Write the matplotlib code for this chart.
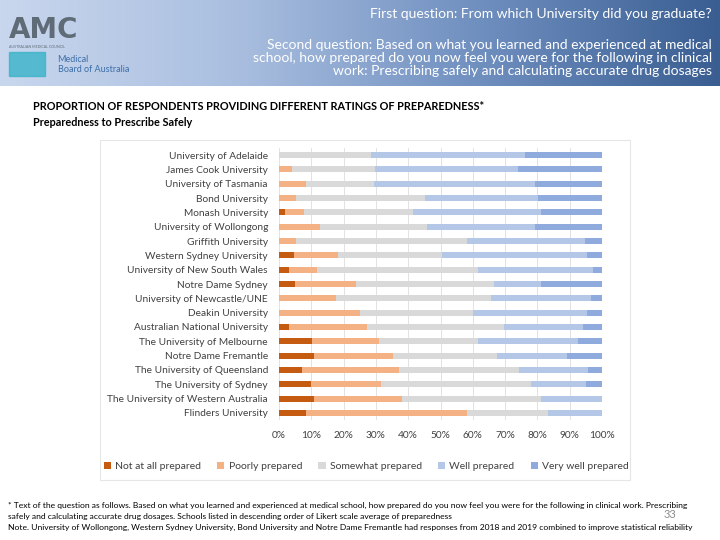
import numpy as np
import matplotlib.pyplot as plt
from matplotlib.patches import Rectangle
from matplotlib.colors import LinearSegmentedColormap

plt.rcParams['font.family'] = ['Lato', 'DejaVu Sans']

universities = [
    "University of Adelaide", "James Cook University", "University of Tasmania",
    "Bond University", "Monash University", "University of Wollongong",
    "Griffith University", "Western Sydney University", "University of New South Wales",
    "Notre Dame Sydney", "University of Newcastle/UNE", "Deakin University",
    "Australian National University", "The University of Melbourne",
    "Notre Dame Fremantle", "The University of Queensland", "The University of Sydney",
    "The University of Western Australia", "Flinders University",
]
categories = ["Not at all prepared", "Poorly prepared", "Somewhat prepared",
              "Well prepared", "Very well prepared"]
not_at_all = [0, 0, 0, 0, 1.8, 0, 0, 4.7, 3.1, 5.0, 0, 0, 3.1, 10.3, 10.9, 7.0, 9.8, 10.9, 8.3]
poorly = [0, 4.0, 8.3, 5.2, 5.9, 12.6, 5.4, 13.7, 8.7, 18.8, 17.5, 25.0, 24.2, 20.6, 24.3, 30.1, 21.9, 27.1, 50.0]
somewhat = [28.6, 25.7, 21.0, 40.0, 33.9, 33.3, 52.7, 32.0, 49.9, 42.9, 48.1, 35.0, 42.5, 30.6, 32.4, 37.3, 46.4, 43.1, 24.9]
well = [47.6, 44.4, 50.0, 34.9, 39.5, 33.4, 36.7, 45.0, 35.4, 14.4, 31.0, 35.3, 24.3, 31.0, 21.7, 21.4, 17.1, 18.9, 16.8]
very_well = [23.8, 25.9, 20.7, 19.9, 18.9, 20.7, 5.2, 4.6, 2.9, 18.9, 3.4, 4.7, 5.9, 7.5, 10.7, 4.2, 4.8, 0, 0]
colors = ["#C55A11", "#F4B183", "#D9D9D9", "#B4C7E7", "#8FAADC"]

fig = plt.figure(figsize=(7.2, 5.4), dpi=100)

# header banner with horizontal gradient
banner = fig.add_axes([0, 1 - 86 / 540, 1, 86 / 540])
grad = np.linspace(0, 1, 256).reshape(1, -1)
cmap = LinearSegmentedColormap.from_list("banner", ["#c9d7ee", "#a9bedf", "#6f8fbf", "#3a5e92"])
banner.imshow(grad, aspect="auto", cmap=cmap, extent=[0, 1, 0, 1])
banner.set_axis_off()

# logos (rough stand-ins)
fig.text(0.012, 1 - 30 / 540, "AMC", fontsize=20, fontweight="heavy", color="#5f6b76",
         va="center", ha="left", family="DejaVu Sans")
fig.text(0.012, 1 - 47 / 540, "AUSTRALIAN MEDICAL COUNCIL", fontsize=2.6, color="#5f6b76",
         va="center", ha="left")
fig.add_artist(Rectangle((0.012, 1 - 76 / 540), 0.05, 0.045, transform=fig.transFigure,
                         color="#39b3c9", alpha=0.8))
fig.text(0.08, 1 - 60 / 540, "Medical", fontsize=6.5, color="#3c6ea8", va="center")
fig.text(0.08, 1 - 70 / 540, "Board of Australia", fontsize=6.5, color="#3c6ea8", va="center")

fig.text(0.989, 1 - 14 / 540, "First question: From which University did you graduate?",
         fontsize=10, color="white", ha="right", va="center")
fig.text(0.989, 1 - 58 / 540,
         "Second question: Based on what you learned and experienced at medical\n"
         "school, how prepared do you now feel you were for the following in clinical\n"
         "work: Prescribing safely and calculating accurate drug dosages",
         fontsize=10, color="white", ha="right", va="center", multialignment="right",
         linespacing=1.1)

fig.text(33 / 720, 1 - 106 / 540, "PROPORTION OF RESPONDENTS PROVIDING DIFFERENT RATINGS OF PREPAREDNESS*",
         fontsize=7.8, fontweight="bold", va="center")
fig.text(33 / 720, 1 - 123 / 540, "Preparedness to Prescribe Safely",
         fontsize=7.8, fontweight="bold", va="center")

# chart panel border, behind the axes
fig.add_artist(Rectangle((100 / 720, 1 - 480 / 540), 530 / 720, 340 / 540, transform=fig.transFigure,
                         facecolor="white", edgecolor="#e6e6e6", lw=0.8, zorder=-1))

ax = fig.add_axes([279 / 720, 1 - 420 / 540, 323 / 720, 272 / 540])
ax.patch.set_alpha(0)
y = np.arange(len(universities))
left = np.zeros(len(universities))
for name, vals, c in zip(categories, [not_at_all, poorly, somewhat, well, very_well], colors):
    ax.barh(y, vals, left=left, height=0.42, color=c, label=name, zorder=2)
    left += np.array(vals)

ax.set_xlim(0, 100)
ax.set_ylim(len(universities) - 0.5, -0.5)
ax.set_yticks(y)
ax.set_yticklabels(universities, fontsize=7.3, color="#404040")
ax.set_xticks(np.arange(0, 101, 10))
ax.set_xticklabels([f"{v}%" for v in range(0, 101, 10)], fontsize=7.3, color="#404040")
ax.tick_params(length=0, pad=8)
ax.grid(axis="x", color="#e2e2e2", lw=0.7, zorder=0)
for s in ax.spines.values():
    s.set_visible(False)

ax.legend(loc="upper center", bbox_to_anchor=(0.27, -0.12), ncol=5, frameon=False,
          fontsize=7.5, handlelength=0.7, handleheight=0.7, handletextpad=0.4,
          columnspacing=1.55, labelcolor="#404040")

fig.text(8 / 720, 1 - 505 / 540,
         "* Text of the question as follows. Based on what you learned and experienced at medical school, how prepared do you now feel you were for the following in clinical work. Prescribing",
         fontsize=6.1, va="center")
fig.text(8 / 720, 1 - 516 / 540,
         "safely and calculating accurate drug dosages. Schools listed in descending order of Likert scale average of preparedness",
         fontsize=6.1, va="center")
fig.text(8 / 720, 1 - 527 / 540,
         "Note. University of Wollongong, Western Sydney University, Bond University and Notre Dame Fremantle had responses from 2018 and 2019 combined to improve statistical reliability",
         fontsize=6.1, va="center")
fig.text(670 / 720, 1 - 515 / 540, "33", fontsize=8, color="#8c8c8c", va="center", ha="center")

fig.savefig("out.png", dpi=100)
